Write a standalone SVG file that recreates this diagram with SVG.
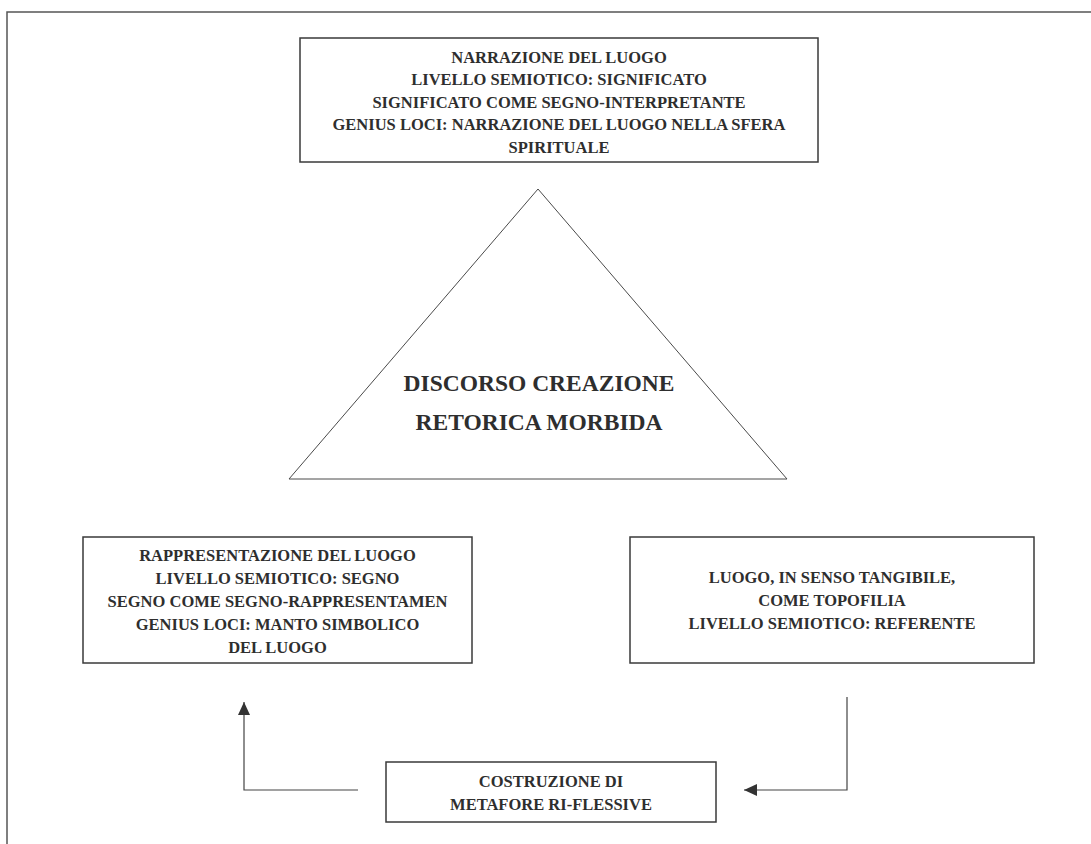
<svg xmlns="http://www.w3.org/2000/svg" width="1091" height="844" viewBox="0 0 1091 844">
  <style>
    .box { fill: #fff; stroke: #3a3a3a; stroke-width: 1.5; }
    .tri { fill: none; stroke: #4a4a4a; stroke-width: 1; }
    .frame { fill: none; stroke: #555; stroke-width: 1.5; }
    .lbl { font-family: "Liberation Serif", "Times New Roman", serif; font-weight: bold; font-size: 16.5px; fill: #2e2e2e; text-anchor: middle; }
    .big { font-family: "Liberation Serif", "Times New Roman", serif; font-weight: bold; font-size: 23.5px; fill: #2e2e2e; text-anchor: middle; }
    .conn { fill: none; stroke: #444; stroke-width: 1.2; }
  </style>
  <defs>
    <marker id="arrow" markerUnits="userSpaceOnUse" markerWidth="14" markerHeight="12" refX="13" refY="6" orient="auto">
      <path d="M0,0 L13,6 L0,12 Z" fill="#333"/>
    </marker>
  </defs>

  <rect width="1091" height="844" fill="#fff"/>

  <!-- page frame: top and left edges only -->
  <path class="frame" d="M1091,12 L7,12 L7,844"/>

  <g id="narrazione">
    <rect class="box" x="300" y="38" width="518" height="124"/>
    <text class="lbl" x="559" y="62.5">NARRAZIONE DEL LUOGO</text>
    <text class="lbl" x="559" y="85">LIVELLO SEMIOTICO: SIGNIFICATO</text>
    <text class="lbl" x="559" y="107.5">SIGNIFICATO COME SEGNO-INTERPRETANTE</text>
    <text class="lbl" x="559" y="130">GENIUS LOCI: NARRAZIONE DEL LUOGO NELLA SFERA</text>
    <text class="lbl" x="559" y="152.5">SPIRITUALE</text>
  </g>

  <g id="discorso">
    <polygon class="tri" points="538,189 787,479 289,479"/>
    <text class="big" x="539" y="391">DISCORSO CREAZIONE</text>
    <text class="big" x="539" y="430">RETORICA MORBIDA</text>
  </g>

  <g id="rappresentazione">
    <rect class="box" x="83" y="537" width="389" height="126"/>
    <text class="lbl" x="277.5" y="560.5">RAPPRESENTAZIONE DEL LUOGO</text>
    <text class="lbl" x="277.5" y="583.5">LIVELLO SEMIOTICO: SEGNO</text>
    <text class="lbl" x="277.5" y="606.5">SEGNO COME SEGNO-RAPPRESENTAMEN</text>
    <text class="lbl" x="277.5" y="629.5">GENIUS LOCI: MANTO SIMBOLICO</text>
    <text class="lbl" x="277.5" y="652.5">DEL LUOGO</text>
  </g>

  <g id="luogo">
    <rect class="box" x="630" y="537" width="404" height="126"/>
    <text class="lbl" x="832" y="582.5">LUOGO, IN SENSO TANGIBILE,</text>
    <text class="lbl" x="832" y="605.5">COME TOPOFILIA</text>
    <text class="lbl" x="832" y="628.5">LIVELLO SEMIOTICO: REFERENTE</text>
  </g>

  <g id="costruzione">
    <rect class="box" x="386" y="762" width="330" height="60"/>
    <text class="lbl" x="551" y="786.5">COSTRUZIONE DI</text>
    <text class="lbl" x="551" y="809.5">METAFORE RI-FLESSIVE</text>
  </g>

  <g id="connectors">
    <path class="conn" d="M358,790 L244,790 L244,702" marker-end="url(#arrow)"/>
    <path class="conn" d="M847,697 L847,790 L744,790" marker-end="url(#arrow)"/>
  </g>
</svg>
